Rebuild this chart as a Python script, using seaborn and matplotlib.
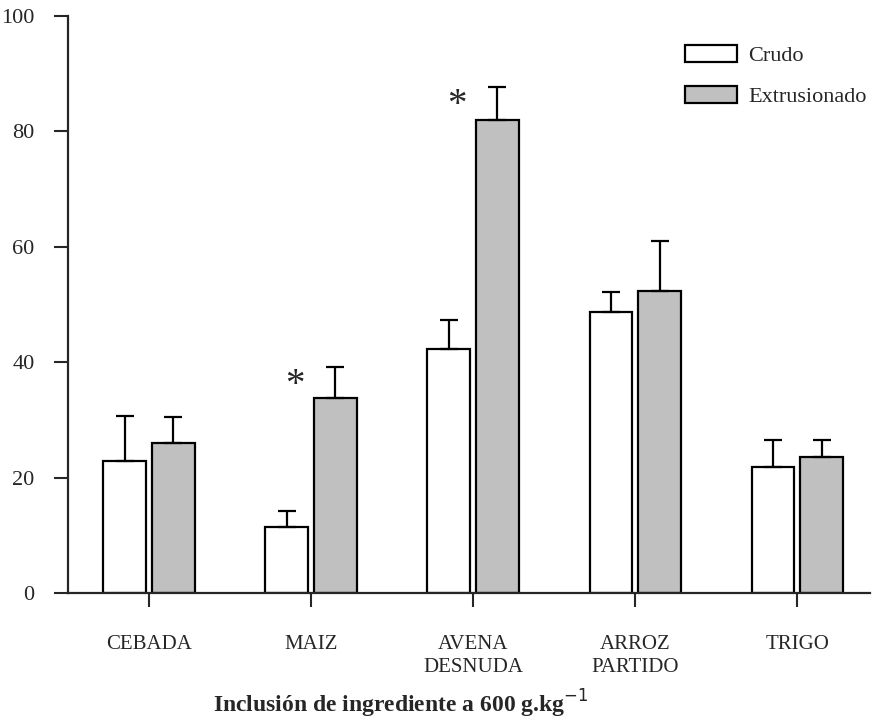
import pandas as pd
import numpy as np
import matplotlib
matplotlib.use('Agg')
import matplotlib.pyplot as plt
import seaborn as sns

# values
ingredientes = ['CEBADA', 'MAIZ', 'AVENA\nDESNUDA', 'ARROZ\nPARTIDO', 'TRIGO']
crudo = [22.9, 11.4, 42.3, 48.7, 21.8]
crudo_err = [7.8, 2.8, 5.0, 3.5, 4.7]
extrusionado = [26.0, 33.8, 82.0, 52.3, 23.6]
extrusionado_err = [4.5, 5.4, 5.7, 8.7, 2.9]
tratamientos = ['Crudo', 'Extrusionado']
significativo = ['MAIZ', 'AVENA\nDESNUDA']

df = pd.DataFrame({
    'Ingrediente': ingredientes * 2,
    'Tratamiento': [tratamientos[0]] * 5 + [tratamientos[1]] * 5,
    'Valor': crudo + extrusionado,
    'Error': crudo_err + extrusionado_err,
})

sns.set_style('ticks')
plt.rcParams['font.family'] = ['Liberation Serif', 'DejaVu Serif']

fig = plt.figure(figsize=(8.72, 7.2), dpi=100)
ax = fig.add_axes([0.078, 0.176, 0.92, 0.802])

sns.barplot(data=df, x='Ingrediente', y='Valor', hue='Tratamiento',
            order=ingredientes, hue_order=tratamientos,
            palette=['white', '#c0c0c0'], width=0.6, gap=0.12,
            edgecolor='black', linewidth=1.6, errorbar=None, ax=ax)

# error bars (upper only), positioned from the drawn bars
bars = [p for p in ax.patches if p.get_height() > 0]
for p in bars:
    xc = p.get_x() + p.get_width() / 2
    h = p.get_height()
    row = df[np.isclose(df['Valor'], h)].iloc[0]
    ax.errorbar(xc, h, yerr=[[0], [row['Error']]], fmt='none',
                ecolor='black', elinewidth=1.6, capsize=6.5, capthick=1.6)

# significance marks
for ing in significativo:
    i = ingredientes.index(ing)
    row = df[(df['Ingrediente'] == ing) & (df['Tratamiento'] == 'Extrusionado')].iloc[0]
    ax.text(i - 0.1, row['Valor'] + row['Error'] - 6.4, '*', fontsize=28,
            ha='center', va='bottom')

ax.set_ylim(0, 100)
ax.set_xlim(-0.5, 4.45)
ax.set_yticks([0, 20, 40, 60, 80, 100])
ax.tick_params(axis='y', labelsize=16, length=10, width=1.5, direction='out', pad=14)
ax.tick_params(axis='x', labelsize=15, length=10, width=1.5, direction='out', pad=20)
for lab in ax.get_xticklabels():
    lab.set_linespacing(1.3)
sns.despine(ax=ax)
for s in ['left', 'bottom']:
    ax.spines[s].set_linewidth(1.6)

ax.set_ylabel('')
ax.set_xlabel(r'Inclusión de ingrediente a 600 g.kg$^{-1}$', fontsize=17,
              fontweight='bold')
ax.xaxis.set_label_coords(0.415, -0.163)

leg = ax.legend(loc='upper right', bbox_to_anchor=(1.02, 0.985), frameon=False,
                fontsize=16, handlelength=2.35, handleheight=0.8, labelspacing=0.9,
                handletextpad=0.5)

fig.savefig('out.png', dpi=100)
